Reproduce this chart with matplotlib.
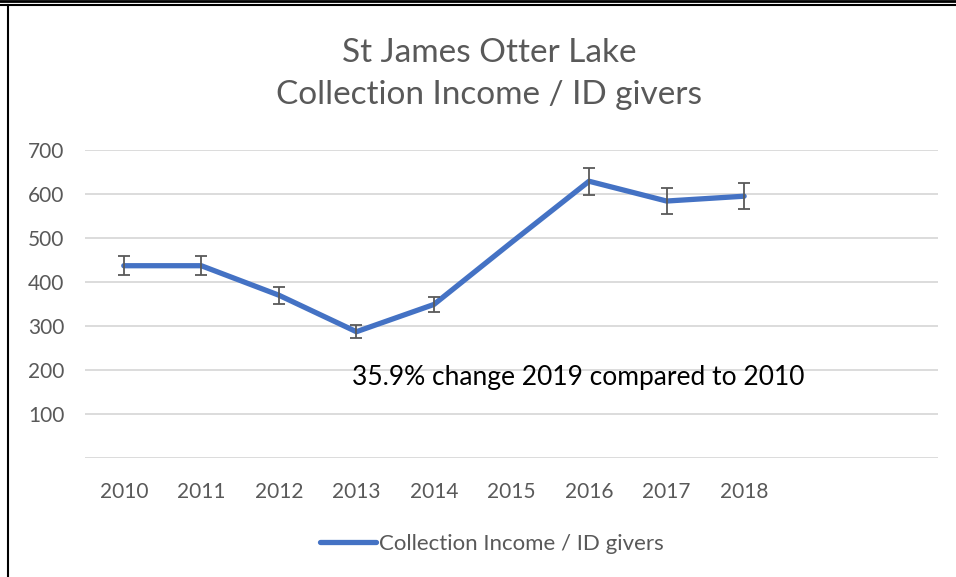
import matplotlib
matplotlib.use("Agg")
import matplotlib.pyplot as plt
from matplotlib.lines import Line2D
import numpy as np

years = ['2010', '2011', '2012', '2013', '2014', '2015', '2016', '2017', '2018', '', '']
values = [437, 437, 370, 287, 349, 490, 629, 584, 595, None, None]
errors = [22, 22, 19, 15, 18, None, 31, 29, 29, None, None]
title = 'St James Otter Lake\nCollection Income / ID givers'
note = '35.9% change 2019 compared to 2010'
series_name = 'Collection Income / ID givers'

plt.rcParams['font.family'] = ['Lato', 'DejaVu Sans']

W, H = 956, 577
fig = plt.figure(figsize=(W / 100, H / 100), dpi=100)
ax = fig.add_axes([85 / W, (H - 458) / H, (938 - 85) / W, (458 - 150) / H])

x = np.arange(len(years))
y = np.array([np.nan if v is None else v for v in values], dtype=float)
e = np.array([np.nan if v is None else v for v in errors], dtype=float)

blue = '#4472C4'
gray = '#595959'
ax.plot(x, y, color=blue, lw=3.8, solid_capstyle='round', zorder=3)
ok = ~np.isnan(e)
ax.errorbar(x[ok], y[ok], yerr=e[ok], fmt='none', ecolor=gray, elinewidth=1.3,
            capsize=4.5, capthick=1.3, zorder=4)

ax.set_xlim(-0.5, len(years) - 0.5)
ax.set_ylim(0, 700)
ax.set_xticks(x)
ax.set_xticklabels(years)
ax.set_yticks(range(0, 701, 100))
ax.set_yticklabels([''] + [str(v) for v in range(100, 701, 100)])
ax.tick_params(axis='both', length=0, colors=gray, labelsize=15)
ax.tick_params(axis='x', pad=17)
ax.tick_params(axis='y', pad=15)
ax.grid(axis='y', color='#D9D9D9', lw=1.3)
ax.set_axisbelow(True)
for s in ax.spines.values():
    s.set_visible(False)

ax.text((352 - 85) / 853, (458 - 377) / 308, note, transform=ax.transAxes,
        fontsize=19, color='black', va='center', ha='left')

fig.text(489 / W, 1 - 74 / H, title, ha='center', va='center', fontsize=24,
         color=gray, linespacing=1.5)

handle = Line2D([0], [0], color=blue, lw=3.8, solid_capstyle='round')
fig.legend([handle], [series_name], loc='center', bbox_to_anchor=(492 / W, 1 - 544 / H),
           frameon=False, fontsize=16, handlelength=2.5, handletextpad=0.15,
           labelcolor=gray)

# frame of the screenshot
fig.add_artist(Line2D([0, 1], [1 - 1 / H, 1 - 1 / H], color='black', lw=2))
fig.add_artist(Line2D([0, 1], [1 - 5 / H, 1 - 5 / H], color='black', lw=1.5))
fig.add_artist(Line2D([8 / W, 8 / W], [0, 1 - 5 / H], color='black', lw=1.5))

fig.savefig('out.png', dpi=100)
